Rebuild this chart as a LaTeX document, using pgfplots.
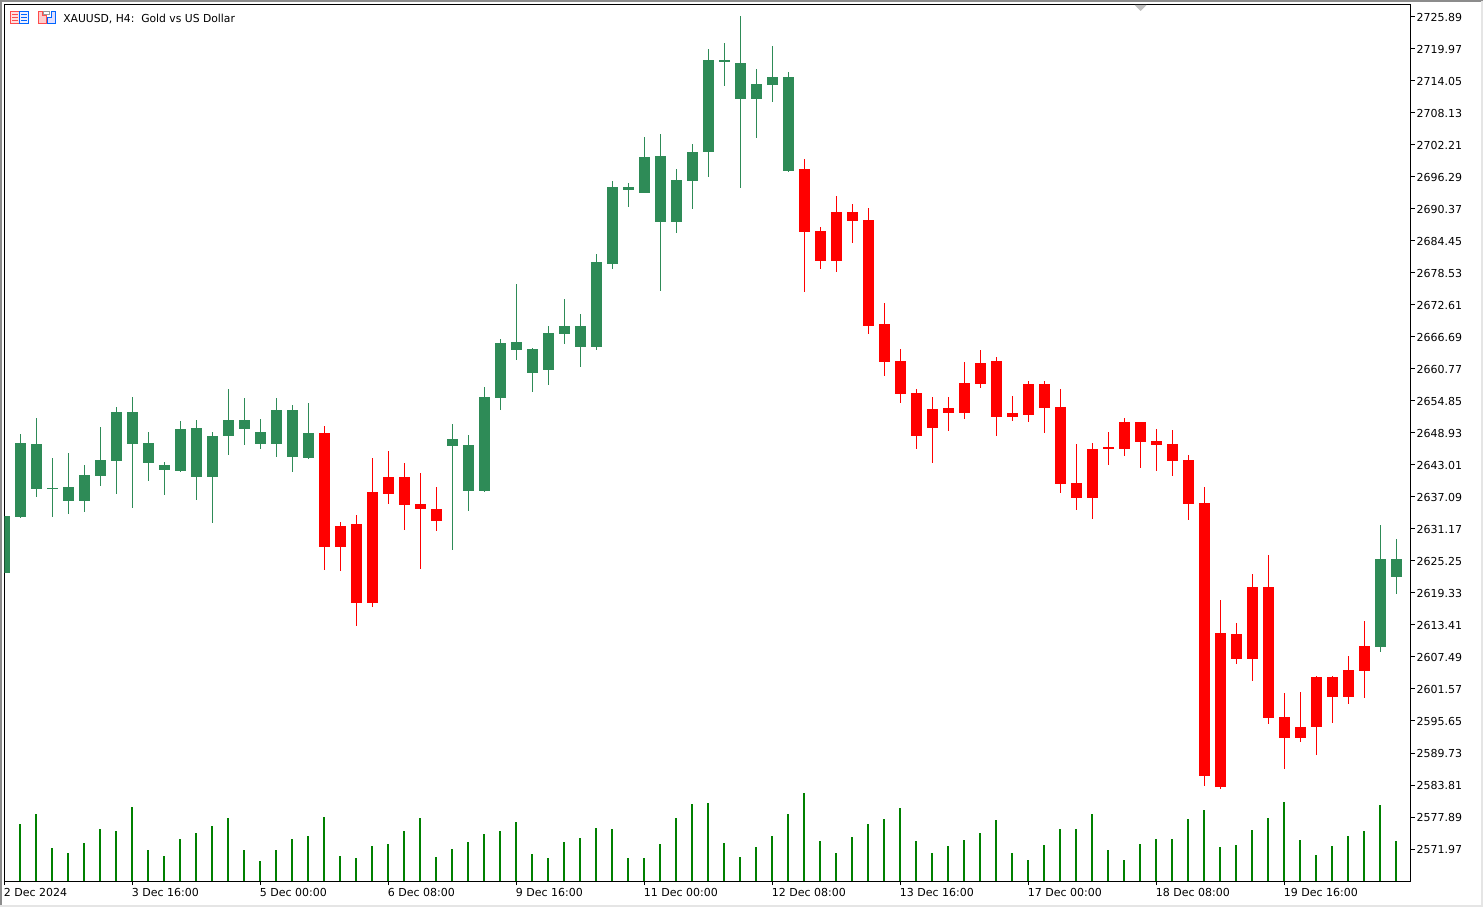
\documentclass[border=0pt]{standalone}
\usepackage{fontspec}
\setmainfont{DejaVu Sans}
\newfontfamily\titlefont[FakeStretch=0.98]{DejaVu Sans}
\usepackage{pgfplots}
\usepackage{pgfplotstable}
\pgfplotsset{compat=1.18}
\definecolor{bull}{HTML}{2E8B57}
\definecolor{bear}{HTML}{FF0000}
\definecolor{volgreen}{HTML}{008000}
\pgfplotstableread{
k high top bot low
0 2633.58 2633.58 2623.03 2623.03
1 2648.75 2647.08 2633.39 2633.21
2 2651.71 2646.90 2638.57 2637.09
3 2644.31 2638.76 2638.57 2633.39
4 2645.23 2638.94 2636.35 2633.95
5 2643.01 2641.16 2636.35 2634.32
6 2650.04 2643.94 2640.98 2639.13
7 2653.74 2652.82 2643.75 2637.65
8 2655.59 2652.82 2646.90 2635.06
9 2649.12 2647.08 2643.38 2640.05
10 2643.57 2643.01 2642.09 2637.46
11 2651.15 2649.67 2641.90 2641.72
12 2651.34 2649.86 2640.79 2636.54
13 2649.12 2648.38 2640.79 2632.28
14 2657.07 2651.34 2648.38 2644.86
15 2655.41 2651.34 2649.67 2646.71
16 2651.52 2649.12 2646.90 2645.97
17 2655.41 2653.19 2646.90 2644.49
18 2654.11 2653.19 2644.49 2641.72
19 2654.48 2648.93 2644.31 2644.12
28 2650.60 2647.82 2646.53 2627.29
29 2648.56 2646.71 2638.20 2634.50
30 2657.44 2655.59 2638.20 2638.02
31 2666.32 2665.58 2655.41 2653.19
32 2676.50 2665.77 2664.29 2662.44
33 2664.66 2664.47 2660.03 2656.52
34 2668.73 2667.43 2660.59 2657.81
35 2673.72 2668.73 2667.25 2665.40
36 2670.95 2668.73 2664.84 2661.14
37 2682.05 2680.57 2664.84 2664.29
38 2695.55 2694.44 2680.20 2679.27
39 2695.18 2694.44 2693.89 2690.74
40 2703.69 2699.99 2693.33 2693.33
41 2704.25 2700.18 2687.97 2675.20
42 2697.77 2695.74 2687.97 2685.93
43 2702.40 2700.92 2695.55 2690.37
44 2719.97 2717.94 2700.92 2696.29
45 2721.08 2717.94 2717.57 2713.13
46 2726.08 2717.38 2710.72 2694.26
47 2716.27 2713.50 2710.72 2703.51
48 2720.53 2714.79 2713.31 2710.17
49 2715.72 2714.79 2697.40 2697.22
86 2631.91 2625.62 2609.34 2608.42
87 2629.32 2625.62 2622.29 2619.15
}\greentable
\pgfplotstableread{
k high top bot low
20 2650.23 2648.93 2627.84 2623.59
21 2632.47 2631.73 2627.84 2623.40
22 2633.76 2632.10 2617.48 2613.23
23 2644.31 2638.02 2617.48 2616.74
24 2645.60 2640.79 2637.65 2635.80
25 2643.38 2640.79 2635.61 2630.99
26 2641.53 2635.80 2634.87 2623.77
27 2638.94 2634.87 2632.65 2630.80
50 2699.62 2697.77 2686.12 2675.02
51 2687.04 2686.30 2680.75 2679.27
52 2692.78 2689.82 2680.75 2678.72
53 2691.30 2689.82 2688.15 2684.08
54 2690.56 2688.34 2668.73 2667.25
55 2672.98 2669.10 2662.07 2659.48
56 2664.47 2662.25 2656.15 2654.48
57 2657.07 2656.33 2648.38 2645.97
58 2655.59 2653.37 2649.86 2643.38
59 2655.59 2653.56 2652.63 2649.30
60 2662.07 2658.18 2652.63 2651.52
61 2664.29 2661.88 2658.00 2657.26
62 2662.99 2662.25 2651.89 2648.38
63 2655.78 2652.63 2651.89 2651.15
64 2658.55 2658.00 2652.26 2650.97
65 2658.55 2658.00 2653.56 2648.93
66 2657.07 2653.74 2639.50 2637.83
67 2646.90 2639.68 2636.91 2634.69
68 2647.08 2645.97 2636.91 2633.02
69 2649.12 2646.34 2645.97 2643.01
70 2651.71 2650.97 2645.97 2644.68
71 2650.97 2650.97 2647.27 2642.46
72 2649.67 2647.45 2646.71 2641.90
73 2649.49 2646.90 2643.75 2640.98
74 2644.86 2643.94 2635.80 2632.84
75 2638.94 2635.98 2585.48 2583.63
76 2618.04 2611.93 2583.44 2583.07
77 2613.78 2611.75 2607.12 2606.20
78 2622.85 2620.44 2607.12 2603.05
79 2626.36 2620.44 2596.21 2595.10
80 2600.83 2596.39 2592.51 2586.77
81 2601.02 2594.54 2592.51 2591.77
82 2603.98 2603.79 2594.54 2589.36
83 2603.98 2603.79 2600.09 2595.28
84 2607.68 2605.09 2600.09 2598.80
85 2614.15 2609.53 2604.90 2599.91
}\redtable
\pgfplotstableread{
k vol
1 57
2 67
3 33
4 28
5 38
6 52
7 50
8 74
9 31
10 25
11 42
12 48
13 55
14 63
15 31
16 20
17 31
18 42
19 45
20 64
21 25
22 23
23 35
24 37
25 50
26 63
27 24
28 32
29 39
30 47
31 50
32 59
33 27
34 23
35 39
36 43
37 53
38 52
39 23
40 23
41 37
42 63
43 77
44 78
45 38
46 24
47 34
48 45
49 67
50 88
51 40
52 28
53 44
54 57
55 62
56 73
57 40
58 28
59 35
60 41
61 48
62 61
63 28
64 21
65 36
66 52
67 52
68 67
69 31
70 21
71 37
72 42
73 42
74 62
75 71
76 34
77 36
78 51
79 63
80 79
81 41
82 26
83 35
84 45
85 50
86 76
87 40
}\voltable
\pgfplotsset{
  chartpos/.style={
    at={(3.375pt,19.5pt)}, anchor=south west, scale only axis,
    width=1054.875pt, height=657.375pt,
    xmin=0, xmax=87.906,
  },
  wick/.style={draw=none, mark=none, error bars/.cd, y dir=plus, y explicit, error mark=none,
    error bar style={line width=0.75pt, draw=#1}},
  body/.style={draw=none, mark=none, error bars/.cd, y dir=plus, y explicit, error mark=none,
    error bar style={line width=8.25pt, draw=#1}},
}
\begin{document}
\begin{tikzpicture}
\useasboundingbox (0,0) rectangle (1112.25pt,680.25pt);
\fill[white] (0,0) rectangle (1112.25pt,680.25pt);
\begin{scope}[x=0.75pt,y=-0.75pt,yshift=680.25pt]
  \draw[line width=1.5pt,draw=black!45] (0.5,907) -- (0.5,1) -- (1483,1);
  \draw[line width=1.5pt,draw=black!10] (0,906) -- (1482,906) -- (1482,1);
\end{scope}
\begin{axis}[chartpos, hide axis, ymin=0, ymax=876.5, clip=true]
  \addplot[ycomb, no marks, draw=volgreen, line width=1.5pt, xshift=-0.375pt] table[x=k,y=vol] {\voltable};
\end{axis}
\begin{axis}[chartpos,
  ymin=2566.05, ymax=2728.20,
  axis line style={line width=0.75pt,black},
  tick style={line width=0.75pt,black},
  tick align=outside,
  xtick pos=bottom,
  ytick pos=right,
  xticklabel pos=bottom,
  yticklabel pos=right,
  xtick={0,8,16,24,32,40,48,56,64,72,80},
  xticklabels={2 Dec 2024,3 Dec 16:00,5 Dec 00:00,6 Dec 08:00,9 Dec 16:00,11 Dec 00:00,12 Dec 08:00,13 Dec 16:00,17 Dec 00:00,18 Dec 08:00,19 Dec 16:00},
  ytick={2725.89,2719.97,2714.05,2708.13,2702.21,2696.29,2690.37,2684.45,2678.53,2672.61,2666.69,2660.77,2654.85,2648.93,2643.01,2637.09,2631.17,2625.25,2619.33,2613.41,2607.49,2601.57,2595.65,2589.73,2583.81,2577.89,2571.97},
  yticklabels={2725.89,2719.97,2714.05,2708.13,2702.21,2696.29,2690.37,2684.45,2678.53,2672.61,2666.69,2660.77,2654.85,2648.93,2643.01,2637.09,2631.17,2625.25,2619.33,2613.41,2607.49,2601.57,2595.65,2589.73,2583.81,2577.89,2571.97},
  scaled y ticks=false,
  major tick length=3pt,
  xticklabel style={font=\fontsize{8.25pt}{10pt}\selectfont, anchor=north west, inner xsep=0pt, inner ysep=0pt, yshift=-2.5pt, xshift=-0.6pt},
  yticklabel style={font=\fontsize{8.25pt}{10pt}\selectfont, anchor=west, inner xsep=0pt, inner ysep=0pt, xshift=1.1pt, yshift=-0.6pt},
  clip=true,
]
  \addplot[wick=bull] table[x=k,y=low,y error plus expr=\thisrow{high}-\thisrow{low}] {\greentable};
  \addplot[body=bull] table[x=k,y=bot,y error plus expr=\thisrow{top}-\thisrow{bot}] {\greentable};
  \addplot[wick=bear] table[x=k,y=low,y error plus expr=\thisrow{high}-\thisrow{low}] {\redtable};
  \addplot[body=bear] table[x=k,y=bot,y error plus expr=\thisrow{top}-\thisrow{bot}] {\redtable};
\end{axis}
\begin{scope}[x=0.75pt,y=-0.75pt,yshift=680.25pt]
  \fill[black!25] (1134.5,5) -- (1146.5,5) -- (1140.5,11) -- cycle;
  % icons
  \draw[line width=0.75pt,draw=red!70,fill=red!12] (10.5,11.5) rectangle (19.5,23.5);
  \draw[line width=0.75pt,draw=blue!60!cyan,fill=blue!6] (19.5,11.5) rectangle (28.5,23.5);
  \foreach \yy in {14.5,17.5,20.5} {\draw[line width=0.75pt,red!70] (12,\yy) -- (18,\yy); \draw[line width=0.75pt,blue!60!cyan] (21,\yy) -- (27,\yy);}
  \draw[line width=0.75pt,draw=red!70,fill=red!20] (38.5,11.5) -- (42.5,11.5) -- (42.5,15.5) -- (46,15.5) -- (46,23.5) -- (38.5,23.5) -- cycle;
  \draw[line width=0.75pt,draw=blue!60!cyan,fill=blue!12] (47.5,17.5) -- (51,17.5) -- (51,11.5) -- (55.5,11.5) -- (55.5,23.5) -- (47.5,23.5) -- cycle;
  \draw[line width=0.75pt,draw=black!40] (43.5,11.5) rectangle (49.5,14.5);
  \node[anchor=west,inner sep=0pt,font=\titlefont\fontsize{8.25pt}{10pt}\selectfont] at (63,19) {XAUUSD, H4:\ \ Gold vs US Dollar};
\end{scope}
\end{tikzpicture}
\end{document}
